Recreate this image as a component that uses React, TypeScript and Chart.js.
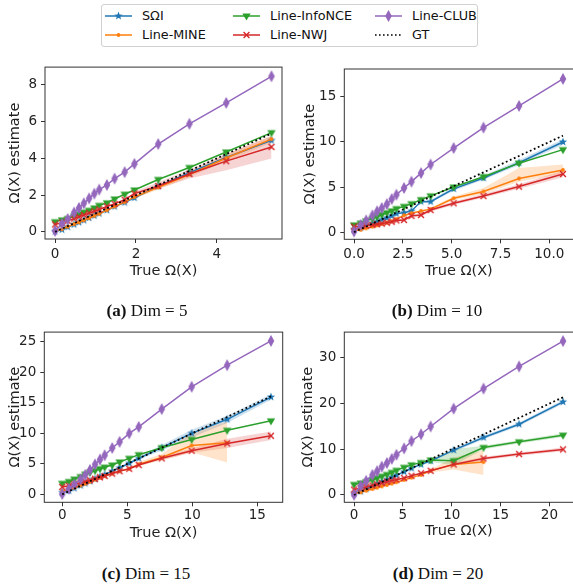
import React, { useEffect, useRef } from 'react';
import { Chart, registerables } from 'chart.js';

Chart.register(...registerables);

const METHOD_NAMES = ['SΩI', 'Line-MINE', 'Line-InfoNCE', 'Line-NWJ', 'Line-CLUB'];
const GT_NAME = 'GT';
const COLORS = ['#1f77b4', '#ff7f0e', '#2ca02c', '#d62728', '#9467bd'];
const BAND_COLORS = ['rgba(31,119,180,0.22)', 'rgba(255,127,14,0.22)', 'rgba(44,160,44,0.22)', 'rgba(214,39,40,0.2)', 'rgba(148,103,189,0.2)'];
const MARKERS = ['star', 'dot', 'tri', 'x', 'dthin'];
const X_TITLE = 'True Ω(X)';
const Y_TITLE = 'Ω(X) estimate';
const FONT = "'DejaVu Sans', sans-serif";

// ---------- (a) Dim = 5 ----------
const xA = [0, 0.17, 0.31, 0.47, 0.59, 0.71, 0.84, 0.97, 1.09, 1.28, 1.47, 1.72, 1.96, 2.55, 3.32, 4.23, 5.35];
const gtA = [0, 0.17, 0.31, 0.47, 0.59, 0.71, 0.84, 0.97, 1.09, 1.28, 1.47, 1.72, 1.96, 2.55, 3.32, 4.23, 5.35];
const sqiA = [0.02, 0.12, 0.26, 0.4, 0.52, 0.63, 0.76, 0.88, 1.0, 1.18, 1.38, 1.6, 1.85, 2.48, 3.22, 4.05, 4.98];
const mineA = [0.05, 0.15, 0.28, 0.42, 0.52, 0.63, 0.75, 0.87, 0.98, 1.18, 1.38, 1.62, 1.9, 2.42, 3.12, 4.02, 5.05];
const infoA = [0.55, 0.65, 0.72, 0.85, 0.97, 1.07, 1.17, 1.3, 1.44, 1.58, 1.79, 2.05, 2.28, 2.85, 3.5, 4.35, 5.4];
const nwjA = [0.4, 0.5, 0.6, 0.72, 0.82, 0.92, 1.02, 1.12, 1.22, 1.38, 1.52, 1.75, 2.08, 2.5, 3.15, 3.85, 4.62];
const clubA = [0.05, 0.44, 0.7, 1.05, 1.3, 1.55, 1.82, 2.08, 2.3, 2.55, 2.9, 3.25, 3.7, 4.78, 5.88, 7.02, 8.47];
const nwjLoA = [1.95, 2.35, 2.9, 3.35, 4.0];
const nwjHiA = [2.2, 2.7, 3.4, 4.25, 5.2];
const mineLoA = [1.8, 2.3, 2.98, 3.85, 4.85];
const mineHiA = [1.98, 2.55, 3.25, 4.2, 5.25];
const xTicksA = [0, 2, 4];
const xLabelsA = ['0', '2', '4'];
const yTicksA = [0, 2, 4, 6, 8];
const yLabelsA = ['0', '2', '4', '6', '8'];

// ---------- (b) Dim = 10 ----------
const xB = [0, 0.34, 0.62, 0.94, 1.18, 1.42, 1.68, 1.93, 2.17, 2.56, 2.94, 3.43, 3.92, 5.1, 6.63, 8.45, 10.7];
const gtB = [0, 0.34, 0.62, 0.94, 1.18, 1.42, 1.68, 1.93, 2.17, 2.56, 2.94, 3.43, 3.92, 5.1, 6.63, 8.45, 10.7];
const sqiB = [0.3, 0.5, 0.72, 0.98, 1.18, 1.38, 1.58, 1.8, 2.05, 2.15, 2.35, 3.4, 3.38, 4.8, 6.0, 7.7, 10.0];
const mineB = [0.15, 0.25, 0.42, 0.6, 0.75, 0.9, 1.05, 1.2, 1.45, 1.85, 2.1, 2.35, 2.55, 3.75, 4.5, 5.95, 6.9];
const infoB = [0.8, 1.0, 1.25, 1.5, 1.72, 1.95, 2.15, 2.35, 2.6, 2.85, 3.15, 3.6, 4.02, 5.0, 6.15, 7.65, 9.15];
const nwjB = [0.6, 0.65, 0.72, 0.8, 0.88, 0.95, 1.05, 1.15, 1.3, 1.35, 1.8, 1.9, 2.45, 3.2, 4.0, 5.05, 6.45];
const clubB = [0.07, 0.8, 1.3, 1.85, 2.3, 2.67, 3.1, 3.67, 4.15, 4.9, 5.6, 6.55, 7.5, 9.33, 11.6, 14.0, 17.0];
const mineLoB = [2.4, 3.55, 4.25, 5.6, 6.5];
const mineHiB = [2.7, 3.95, 4.9, 7.1, 7.5];
const nwjLoB = [1.15, 1.2, 1.6, 1.7, 2.25, 3.0, 3.8, 4.8, 6.1];
const nwjHiB = [1.45, 1.5, 2.0, 2.1, 2.65, 3.4, 4.25, 5.3, 6.8];
const sqiLoB = [3.25, 4.6, 5.8, 7.45, 9.7];
const sqiHiB = [3.55, 5.0, 6.25, 8.0, 10.3];
const xTicksB = [0, 2.5, 5, 7.5, 10];
const xLabelsB = ['0.0', '2.5', '5.0', '7.5', '10.0'];
const yTicksB = [0, 5, 10, 15];
const yLabelsB = ['0', '5', '10', '15'];

// ---------- (c) Dim = 15 ----------
const xC = [0, 0.51, 0.93, 1.41, 1.77, 2.13, 2.52, 2.9, 3.26, 3.84, 4.41, 5.15, 5.88, 7.65, 9.95, 12.68, 16.05];
const gtC = [0, 0.51, 0.93, 1.41, 1.77, 2.13, 2.52, 2.9, 3.26, 3.84, 4.41, 5.15, 5.88, 7.65, 9.95, 12.68, 16.05];
const sqiC = [0.3, 0.6, 1.0, 1.45, 1.8, 2.15, 2.5, 2.85, 3.2, 3.8, 4.35, 5.1, 5.9, 7.65, 10.0, 12.3, 15.95];
const mineC = [0.5, 0.75, 1.05, 1.45, 1.75, 2.05, 2.4, 2.7, 3.0, 3.4, 3.8, 4.2, 4.95, 6.05, 8.0, 8.45, null];
const infoC = [1.8, 2.1, 2.5, 2.9, 3.3, 3.6, 3.9, 4.2, 4.45, 4.8, 5.3, 5.9, 6.5, 7.64, 9.0, 10.5, 12.05];
const nwjC = [1.2, 1.4, 1.65, 1.9, 2.1, 2.3, 2.55, 2.8, 3.0, 3.4, 3.8, 4.2, 4.8, 5.9, 7.15, 8.35, 9.6];
const clubC = [0.05, 0.9, 1.6, 2.45, 3.2, 4.0, 4.9, 5.7, 6.4, 7.6, 8.6, 10.0, 11.05, 13.97, 17.63, 21.17, 25.16];
const mineLoC = [4.6, 5.6, 6.9, 5.2];
const mineHiC = [5.3, 6.6, 10.2, 11.9];
const sqiLoC = [4.9, 5.65, 7.2, 9.3, 11.7, 15.5];
const sqiHiC = [5.3, 6.15, 8.1, 10.6, 12.9, 16.4];
const nwjLoC = [5.6, 6.8, 7.6, 8.9];
const nwjHiC = [6.2, 7.5, 9.1, 10.3];
const xTicksC = [0, 5, 10, 15];
const xLabelsC = ['0', '5', '10', '15'];
const yTicksC = [0, 5, 10, 15, 20, 25];
const yLabelsC = ['0', '5', '10', '15', '20', '25'];

// ---------- (d) Dim = 20 ----------
const xD = [0, 0.68, 1.24, 1.88, 2.36, 2.84, 3.36, 3.86, 4.34, 5.12, 5.88, 6.86, 7.84, 10.2, 13.26, 16.9, 21.4];
const gtD = [0, 0.68, 1.24, 1.88, 2.36, 2.84, 3.36, 3.86, 4.34, 5.12, 5.88, 6.86, 7.84, 10.2, 13.26, 16.9, 21.4];
const sqiD = [0.3, 0.8, 1.3, 1.9, 2.4, 2.9, 3.4, 3.9, 4.35, 5.1, 5.85, 6.7, 7.45, 9.83, 12.6, 15.5, 20.4];
const mineD = [0.3, 0.6, 0.95, 1.3, 1.6, 1.9, 2.2, 2.5, 2.8, 3.3, 3.8, 4.4, 5.3, 6.7, 7.2, null, null];
const infoD = [2.3, 2.6, 2.9, 3.3, 3.7, 4.1, 4.5, 4.95, 5.4, 6.05, 6.6, 7.1, 7.65, 7.5, 10.4, 11.65, 13.1];
const nwjD = [1.2, 1.5, 1.8, 2.1, 2.35, 2.6, 2.9, 3.15, 3.35, 3.7, 4.2, 4.75, 5.3, 6.7, 8.0, 8.96, 9.98];
const clubD = [0.05, 2.0, 3.1, 4.4, 5.2, 6.2, 7.0, 7.9, 8.8, 10.2, 11.8, 13.3, 15.0, 18.9, 23.3, 28.15, 33.7];
const infoLoD = [7.2, 6.5, 10.0, 11.3, 12.7];
const infoHiD = [8.0, 10.0, 10.8, 12.0, 13.5];
const mineLoD = [4.9, 5.6, 4.4];
const mineHiD = [5.6, 8.2, 9.8];
const nwjLoD = [6.4, 7.6, 8.6, 9.6];
const nwjHiD = [7.0, 8.4, 9.3, 10.4];
const sqiLoD = [9.4, 12.2, 15.1, 20.0];
const sqiHiD = [10.2, 13.0, 15.9, 20.8];
const xTicksD = [0, 5, 10, 15, 20];
const xLabelsD = ['0', '5', '10', '15', '20'];
const yTicksD = [0, 10, 20, 30];
const yLabelsD = ['0', '10', '20', '30'];

type Band = { series: number; from: number; lo: number[]; hi: number[] };
type PanelCfg = {
  x: number[]; gt: number[]; series: (number | null)[][]; bands: Band[];
  xRange: [number, number]; yRange: [number, number];
  xTicks: number[]; xLabels: string[]; yTicks: number[]; yLabels: string[];
  tag: string; caption: string;
  canvas: { left: number; top: number; width: number; height: number };
  yAxisWidth: number; padTop: number; padRight: number; xAxisHeight: number;
  xTitlePad: number; yTitlePad: number; xTickPad: number; yTickPad: number;
  cap: { cx: number; cy: number };
};

const PANELS: PanelCfg[] = [
  {
    x: xA, gt: gtA, series: [sqiA, mineA, infoA, nwjA, clubA],
    bands: [{ series: 3, from: 12, lo: nwjLoA, hi: nwjHiA }, { series: 1, from: 12, lo: mineLoA, hi: mineHiA }],
    xRange: [-0.25, 5.61], yRange: [-0.39, 8.97],
    xTicks: xTicksA, xLabels: xLabelsA, yTicks: yTicksA, yLabels: yLabelsA,
    tag: '(a)', caption: 'Dim = 5',
    canvas: { left: 0, top: 55, width: 290, height: 235 },
    yAxisWidth: 45, padTop: 7, padRight: 8, xAxisHeight: 51,
    xTitlePad: 10.3, yTitlePad: 6.3, xTickPad: 2.9, yTickPad: 4,
    cap: { cx: 147, cy: 311 },
  },
  {
    x: xB, gt: gtB, series: [sqiB, mineB, infoB, nwjB, clubB],
    bands: [{ series: 1, from: 12, lo: mineLoB, hi: mineHiB }, { series: 3, from: 8, lo: nwjLoB, hi: nwjHiB }, { series: 0, from: 12, lo: sqiLoB, hi: sqiHiB }],
    xRange: [-0.5, 11.24], yRange: [-0.8, 18.1],
    xTicks: xTicksB, xLabels: xLabelsB, yTicks: yTicksB, yLabels: yLabelsB,
    tag: '(b)', caption: 'Dim = 10',
    canvas: { left: 290, top: 55, width: 290, height: 235 },
    yAxisWidth: 54.3, padTop: 14, padRight: 6.5, xAxisHeight: 50.7,
    xTitlePad: 10.3, yTitlePad: 11.3, xTickPad: 2.9, yTickPad: 4,
    cap: { cx: 437, cy: 311 },
  },
  {
    x: xC, gt: gtC, series: [sqiC, mineC, infoC, nwjC, clubC],
    bands: [{ series: 1, from: 12, lo: mineLoC, hi: mineHiC }, { series: 0, from: 11, lo: sqiLoC, hi: sqiHiC }, { series: 3, from: 13, lo: nwjLoC, hi: nwjHiC }],
    xRange: [-1.38, 16.95], yRange: [-1.31, 26.6],
    xTicks: xTicksC, xLabels: xLabelsC, yTicks: yTicksC, yLabels: yLabelsC,
    tag: '(c)', caption: 'Dim = 15',
    canvas: { left: 0, top: 320, width: 290, height: 230 },
    yAxisWidth: 44.3, padTop: 11.7, padRight: 7.3, xAxisHeight: 47.7,
    xTitlePad: 8.0, yTitlePad: 6.3, xTickPad: 1, yTickPad: 4,
    cap: { cx: 146, cy: 574 },
  },
  {
    x: xD, gt: gtD, series: [sqiD, mineD, infoD, nwjD, clubD],
    bands: [{ series: 2, from: 12, lo: infoLoD, hi: infoHiD }, { series: 1, from: 12, lo: mineLoD, hi: mineHiD }, { series: 3, from: 13, lo: nwjLoD, hi: nwjHiD }, { series: 0, from: 13, lo: sqiLoD, hi: sqiHiD }],
    xRange: [-1.0, 22.47], yRange: [-1.6, 35.67],
    xTicks: xTicksD, xLabels: xLabelsD, yTicks: yTicksD, yLabels: yLabelsD,
    tag: '(d)', caption: 'Dim = 20',
    canvas: { left: 290, top: 320, width: 290, height: 230 },
    yAxisWidth: 54.3, padTop: 11.7, padRight: 6.5, xAxisHeight: 47.7,
    xTitlePad: 9.6, yTitlePad: 9.6, xTickPad: 1, yTickPad: 4,
    cap: { cx: 438, cy: 574 },
  },
];

function drawMarker(ctx: CanvasRenderingContext2D, kind: string, color: string, cx: number, cy: number) {
  ctx.save();
  ctx.fillStyle = color;
  ctx.strokeStyle = color;
  ctx.beginPath();
  if (kind === 'star') {
    for (let i = 0; i < 10; i++) {
      const r = i % 2 === 0 ? 4.4 : 1.8;
      const a = -Math.PI / 2 + (i * Math.PI) / 5;
      const px = cx + r * Math.cos(a);
      const py = cy + r * Math.sin(a);
      if (i === 0) ctx.moveTo(px, py); else ctx.lineTo(px, py);
    }
    ctx.closePath();
    ctx.fill();
  } else if (kind === 'dthin') {
    ctx.moveTo(cx, cy - 6);
    ctx.lineTo(cx + 3.3, cy);
    ctx.lineTo(cx, cy + 6);
    ctx.lineTo(cx - 3.3, cy);
    ctx.closePath();
    ctx.fill();
  } else if (kind === 'tri') {
    ctx.moveTo(cx - 4.2, cy - 2.6);
    ctx.lineTo(cx + 4.2, cy - 2.6);
    ctx.lineTo(cx, cy + 4.4);
    ctx.closePath();
    ctx.fill();
  } else if (kind === 'x') {
    ctx.lineWidth = 1.4;
    ctx.moveTo(cx - 2.9, cy - 2.9);
    ctx.lineTo(cx + 2.9, cy + 2.9);
    ctx.moveTo(cx + 2.9, cy - 2.9);
    ctx.lineTo(cx - 2.9, cy + 2.9);
    ctx.stroke();
  } else if (kind === 'dot') {
    ctx.arc(cx, cy, 1.9, 0, Math.PI * 2);
    ctx.fill();
  }
  ctx.restore();
}

function makeMarker(kind: string, color: string): HTMLCanvasElement {
  const c = document.createElement('canvas');
  c.width = 12;
  c.height = 14;
  const ctx = c.getContext('2d')!;
  drawMarker(ctx, kind, color, 6, 7);
  return c;
}

const framePlugin = {
  id: 'frame',
  afterDraw(chart: any) {
    const { ctx, chartArea: a } = chart;
    ctx.save();
    ctx.strokeStyle = '#333';
    ctx.lineWidth = 1;
    ctx.strokeRect(a.left, a.top, a.right - a.left, a.bottom - a.top);
    ctx.restore();
  },
};

function Panel({ p }: { p: PanelCfg }) {
  const ref = useRef<HTMLCanvasElement>(null);
  useEffect(() => {
    const markers = MARKERS.map((m, i) => makeMarker(m, COLORS[i]));
    const datasets: any[] = [];
    p.bands.forEach((b) => {
      const xs = p.x.slice(b.from, b.from + b.lo.length);
      datasets.push({
        data: xs.map((x, i) => ({ x, y: b.lo[i] })),
        borderWidth: 0, borderColor: 'rgba(0,0,0,0)', pointRadius: 0, fill: false, order: 10,
      });
      datasets.push({
        data: xs.map((x, i) => ({ x, y: b.hi[i] })),
        borderWidth: 0, borderColor: 'rgba(0,0,0,0)', pointRadius: 0, fill: '-1',
        backgroundColor: BAND_COLORS[b.series], order: 10,
      });
    });
    p.series.forEach((ys, si) => {
      const pts = p.x.map((x, i) => ({ x, y: ys[i] })).filter((pt) => pt.y !== null);
      datasets.push({
        label: METHOD_NAMES[si],
        data: pts,
        borderColor: COLORS[si],
        backgroundColor: COLORS[si],
        borderWidth: 1.5,
        pointStyle: markers[si],
        pointRadius: 4,
        fill: false,
        order: 6 - si,
      });
    });
    datasets.push({
      label: GT_NAME,
      data: p.x.map((x, i) => ({ x, y: p.gt[i] })),
      borderColor: '#000',
      borderWidth: 1.8,
      borderDash: [1.8, 2.6],
      pointRadius: 0,
      fill: false,
      order: 0,
    });
    const tickFont = { family: FONT, size: 13.5 };
    const titleFont = { family: FONT, size: 14.5 };
    const chart = new Chart(ref.current!, {
      type: 'line',
      data: { datasets },
      plugins: [framePlugin],
      options: {
        animation: false,
        responsive: false,
        layout: { padding: { left: 0, top: p.padTop, right: p.padRight, bottom: 0 } },
        plugins: { legend: { display: false }, tooltip: { enabled: false } },
        elements: { line: { tension: 0 } },
        scales: {
          x: {
            type: 'linear',
            min: p.xRange[0],
            max: p.xRange[1],
            afterBuildTicks: (s: any) => { s.ticks = p.xTicks.map((v) => ({ value: v })); },
            afterFit: (s: any) => { s.height = p.xAxisHeight; },
            ticks: {
              autoSkip: false, maxRotation: 0, padding: p.xTickPad, color: '#222', font: tickFont,
              callback: (_v: any, i: number) => p.xLabels[i],
            },
            grid: { drawOnChartArea: false, drawTicks: true, tickLength: 4, color: '#333' },
            border: { display: false },
            title: { display: true, text: X_TITLE, color: '#222', font: titleFont, padding: { top: 0, bottom: p.xTitlePad } },
          },
          y: {
            type: 'linear',
            min: p.yRange[0],
            max: p.yRange[1],
            afterBuildTicks: (s: any) => { s.ticks = p.yTicks.map((v) => ({ value: v })); },
            afterFit: (s: any) => { s.width = p.yAxisWidth; },
            ticks: {
              autoSkip: false, padding: p.yTickPad, color: '#222', font: tickFont,
              callback: (_v: any, i: number) => p.yLabels[i],
            },
            grid: { drawOnChartArea: false, drawTicks: true, tickLength: 4, color: '#333' },
            border: { display: false },
            title: { display: true, text: Y_TITLE, color: '#222', font: titleFont, padding: { top: p.yTitlePad, bottom: 0 } },
          },
        },
      } as any,
    });
    return () => chart.destroy();
  }, []);
  return (
    <canvas
      ref={ref}
      width={p.canvas.width}
      height={p.canvas.height}
      style={{ position: 'absolute', left: p.canvas.left, top: p.canvas.top, width: p.canvas.width, height: p.canvas.height }}
    />
  );
}

function LegendIcon({ kind, color, dotted }: { kind: string | null; color: string; dotted?: boolean }) {
  const ref = useRef<HTMLCanvasElement>(null);
  useEffect(() => {
    const c = ref.current!;
    const ctx = c.getContext('2d')!;
    ctx.clearRect(0, 0, c.width, c.height);
    ctx.strokeStyle = color;
    ctx.lineWidth = 1.5;
    if (dotted) ctx.setLineDash([1.6, 2.4]);
    ctx.beginPath();
    ctx.moveTo(0, 7);
    ctx.lineTo(27, 7);
    ctx.stroke();
    ctx.setLineDash([]);
    if (kind) drawMarker(ctx, kind, color, 13.5, 7);
  }, []);
  return <canvas ref={ref} width={27} height={14} style={{ position: 'absolute', left: 0, top: -7 }} />;
}

const LEGEND_ITEMS = [
  { name: METHOD_NAMES[0], kind: MARKERS[0], color: COLORS[0], col: 0, row: 0 },
  { name: METHOD_NAMES[1], kind: MARKERS[1], color: COLORS[1], col: 0, row: 1 },
  { name: METHOD_NAMES[2], kind: MARKERS[2], color: COLORS[2], col: 1, row: 0 },
  { name: METHOD_NAMES[3], kind: MARKERS[3], color: COLORS[3], col: 1, row: 1 },
  { name: METHOD_NAMES[4], kind: MARKERS[4], color: COLORS[4], col: 2, row: 0 },
  { name: GT_NAME, kind: null, color: '#000', col: 2, row: 1 },
];
const LEGEND_COL_X = [105, 233, 375];
const LEGEND_ROW_Y = [16, 35];

function Legend() {
  return (
    <>
      <div style={{ position: 'absolute', left: 101, top: 4, width: 377, height: 43, border: '1px solid #d0d0d0', borderRadius: 3, boxSizing: 'border-box' }} />
      {LEGEND_ITEMS.map((it) => (
        <div key={it.name} style={{ position: 'absolute', left: LEGEND_COL_X[it.col], top: LEGEND_ROW_Y[it.row] }}>
          <LegendIcon kind={it.kind} color={it.color} dotted={it.kind === null} />
          <span style={{ position: 'absolute', left: 37, top: -9, fontFamily: FONT, fontSize: 12.8, lineHeight: '18px', color: '#111', whiteSpace: 'nowrap' }}>{it.name}</span>
        </div>
      ))}
    </>
  );
}

export default function App() {
  return (
    <div style={{ position: 'fixed', left: 0, top: 0, width: 573, height: 584, overflow: 'hidden', background: '#fff' }}>
      <Legend />
      {PANELS.map((p) => (
        <Panel key={p.tag} p={p} />
      ))}
      {PANELS.map((p) => (
        <div key={'cap' + p.tag} style={{ position: 'absolute', left: p.cap.cx - 100, top: p.cap.cy - 11, width: 200, textAlign: 'center', fontFamily: "'Liberation Serif', serif", fontSize: 17, lineHeight: '22px', color: '#111' }}>
          <b>{p.tag}</b> {p.caption}
        </div>
      ))}
    </div>
  );
}
